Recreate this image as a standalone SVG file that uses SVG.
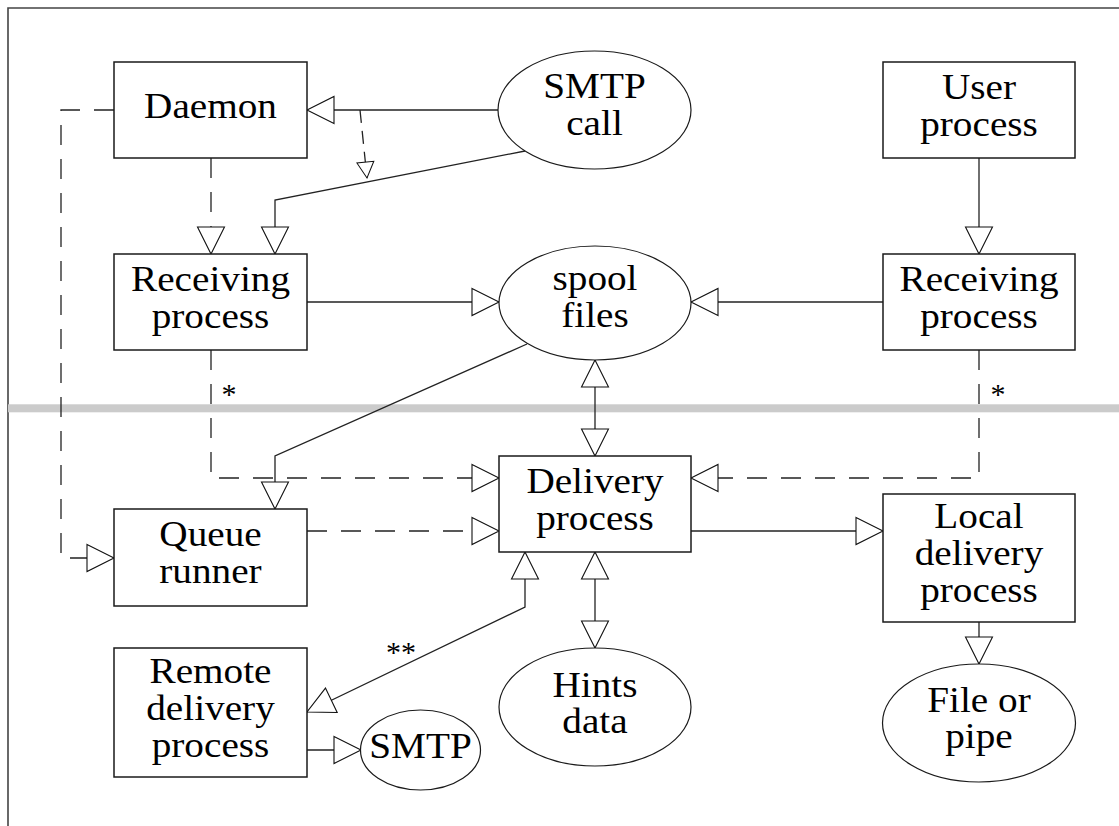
<svg xmlns="http://www.w3.org/2000/svg" width="1119" height="826" viewBox="0 0 1119 826">
<style>
.box{fill:#fff;stroke:#1a1a1a;stroke-width:1.5}
.ell{fill:#fff;stroke:#1a1a1a;stroke-width:1.2}
.t{font-family:"Liberation Serif","Times New Roman",serif;font-size:36px;fill:#000;text-anchor:middle}
.ast{font-family:"Liberation Serif","Times New Roman",serif;font-size:30px;fill:#000;text-anchor:middle}
.c{fill:none;stroke:#222;stroke-width:1.3}
.d{stroke-dasharray:20 14}
.ds{stroke-dasharray:13 8}
.big{marker-end:url(#ah)}
.both{marker-start:url(#ah);marker-end:url(#ah)}
</style>
<defs>
<marker id="ah" markerUnits="userSpaceOnUse" markerWidth="28" markerHeight="28" refX="27" refY="13.5" orient="auto-start-reverse" overflow="visible">
<path d="M0,0 L27,13.5 L0,27 Z" fill="#fff" stroke="#111" stroke-width="1.1" stroke-dasharray="none"/>
</marker>
<marker id="as" markerUnits="userSpaceOnUse" markerWidth="17" markerHeight="17" refX="16" refY="8.5" orient="auto" overflow="visible">
<path d="M0,0 L16,8.5 L0,17 Z" fill="#fff" stroke="#111" stroke-width="1" stroke-dasharray="none"/>
</marker>
</defs>
<rect x="0" y="0" width="1119" height="826" fill="#fff"/>
<g id="frame">
<path d="M8,826 L8,8 L1119,8" fill="none" stroke="#444" stroke-width="1.6"/>
<rect x="8" y="404.3" width="1111" height="8" fill="#cbcbcb"/>
</g>
<g id="connectors">
<path class="c big" d="M498,110 L307,110"/>
<path class="c ds" d="M360,110 L367,178" marker-end="url(#as)"/>
<path class="c big" d="M525,151 L275,200 L275,254"/>
<path class="c d big" d="M211,158 L211,254"/>
<path class="c d big" d="M114,110 L61,110 L61,558 L114,558"/>
<path class="c big" d="M979,158 L979,254"/>
<path class="c big" d="M307,302 L499,302"/>
<path class="c big" d="M883,302 L691,302"/>
<path class="c both" d="M595,360 L595,456"/>
<path class="c big" d="M527,344 L275,456 L275,509"/>
<path class="c d big" d="M211,350 L211,478 L499,478"/>
<path class="c d big" d="M979,350 L979,478 L691,478"/>
<path class="c d big" d="M307,531 L499,531"/>
<path class="c big" d="M691,531 L883,531"/>
<path class="c both" d="M595,552 L595,648"/>
<path class="c both" d="M525,552 L525,607 L307,712"/>
<path class="c big" d="M979,622 L979,664"/>
<path class="c big" d="M307,750 L361,750"/>
<text class="ast" x="229" y="404">*</text>
<text class="ast" x="998" y="404">*</text>
<text class="ast" x="401" y="662">**</text>
</g>
<g id="daemon">
<rect class="box" x="114" y="62" width="193" height="96"/>
<text class="t" transform="translate(210.5,0) scale(1.09,1)" x="0" y="118">Daemon</text>
</g>
<g id="smtp-call">
<ellipse class="ell" cx="594.5" cy="110" rx="96.5" ry="59"/>
<text class="t" transform="translate(594.5,0) scale(1.09,1)"><tspan x="0" y="98.5">SMTP</tspan><tspan x="0" y="135.2">call</tspan></text>
</g>
<g id="user-process">
<rect class="box" x="883" y="62" width="192" height="96"/>
<text class="t" transform="translate(979,0) scale(1.09,1)"><tspan x="0" y="99">User</tspan><tspan x="0" y="135.7">process</tspan></text>
</g>
<g id="receiving-left">
<rect class="box" x="114" y="254" width="193" height="96"/>
<text class="t" transform="translate(210.5,0) scale(1.09,1)"><tspan x="0" y="291">Receiving</tspan><tspan x="0" y="327.7">process</tspan></text>
</g>
<g id="spool-files">
<ellipse class="ell" cx="595" cy="303" rx="96" ry="57"/>
<text class="t" transform="translate(595,0) scale(1.09,1)"><tspan x="0" y="290">spool</tspan><tspan x="0" y="326.7">files</tspan></text>
</g>
<g id="receiving-right">
<rect class="box" x="883" y="254" width="192" height="96"/>
<text class="t" transform="translate(979,0) scale(1.09,1)"><tspan x="0" y="291">Receiving</tspan><tspan x="0" y="327.7">process</tspan></text>
</g>
<g id="delivery-process">
<rect class="box" x="499" y="456" width="192" height="96"/>
<text class="t" transform="translate(595,0) scale(1.09,1)"><tspan x="0" y="493.3">Delivery</tspan><tspan x="0" y="530">process</tspan></text>
</g>
<g id="queue-runner">
<rect class="box" x="114" y="509" width="193" height="97"/>
<text class="t" transform="translate(210.5,0) scale(1.09,1)"><tspan x="0" y="546.5">Queue</tspan><tspan x="0" y="583.2">runner</tspan></text>
</g>
<g id="local-delivery">
<rect class="box" x="883" y="494" width="192" height="128"/>
<text class="t" transform="translate(979,0) scale(1.09,1)"><tspan x="0" y="528.5">Local</tspan><tspan x="0" y="565.2">delivery</tspan><tspan x="0" y="601.9">process</tspan></text>
</g>
<g id="remote-delivery">
<rect class="box" x="114" y="648" width="193" height="129"/>
<text class="t" transform="translate(210.5,0) scale(1.09,1)"><tspan x="0" y="683.3">Remote</tspan><tspan x="0" y="720">delivery</tspan><tspan x="0" y="756.7">process</tspan></text>
</g>
<g id="hints-data">
<ellipse class="ell" cx="595" cy="707" rx="96" ry="59"/>
<text class="t" transform="translate(595,0) scale(1.09,1)"><tspan x="0" y="696.7">Hints</tspan><tspan x="0" y="733.4">data</tspan></text>
</g>
<g id="file-or-pipe">
<ellipse class="ell" cx="979" cy="723" rx="96.5" ry="59"/>
<text class="t" transform="translate(979,0) scale(1.09,1)"><tspan x="0" y="711.7">File or</tspan><tspan x="0" y="748.4">pipe</tspan></text>
</g>
<g id="smtp">
<ellipse class="ell" cx="420.5" cy="750" rx="60" ry="40"/>
<text class="t" transform="translate(420.5,0) scale(1.09,1)" x="0" y="758.3">SMTP</text>
</g>
</svg>
